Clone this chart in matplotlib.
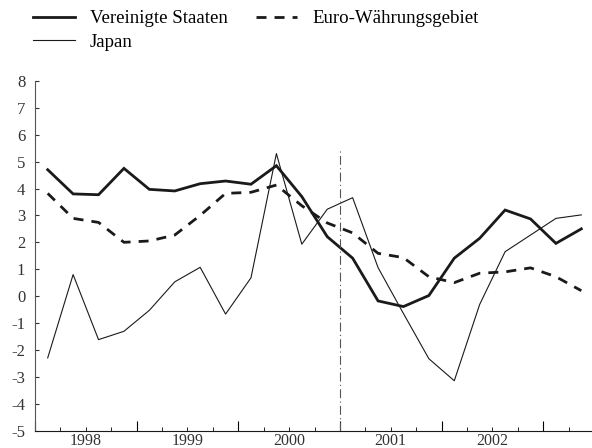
import numpy as np
import matplotlib
matplotlib.use("Agg")
import matplotlib.pyplot as plt
from matplotlib.ticker import MultipleLocator

plt.rcParams['font.family'] = 'serif'
plt.rcParams['font.serif'] = ['Liberation Serif', 'DejaVu Serif']
plt.rcParams['axes.unicode_minus'] = False

# quarterly data, 1998 Q1 to 2003 Q2
years = [1998, 1999, 2000, 2001, 2002]
us = [4.70, 3.80, 3.77, 4.75, 3.97, 3.91, 4.18, 4.28, 4.16, 4.85, 3.70,
      2.21, 1.41, -0.18, -0.39, 0.02, 1.41, 2.15, 3.20, 2.87, 1.96, 2.50]
euro = [3.82, 2.89, 2.74, 2.00, 2.05, 2.27, 3.00, 3.82, 3.86, 4.13, 3.36,
        2.72, 2.35, 1.59, 1.43, 0.72, 0.50, 0.85, 0.90, 1.05, 0.72, 0.20]
japan = [-2.30, 0.80, -1.62, -1.31, -0.53, 0.53, 1.07, -0.67, 0.68, 5.30, 1.93,
         3.23, 3.66, 1.06, -0.65, -2.33, -3.15, -0.31, 1.65, 2.27, 2.89, 3.02]
labels = ['Vereinigte Staaten', 'Euro-Währungsgebiet', 'Japan']

x = 1998 + (np.arange(len(us)) + 0.5) / 4.0

fig = plt.figure(figsize=(5.92, 4.48), dpi=100)
ax = fig.add_axes([35 / 592, 17.5 / 448, 557 / 592, 349.5 / 448])

l_us, = ax.plot(x, us, color='#1a1a1a', lw=2.0, solid_joinstyle='miter')
l_eu, = ax.plot(x, euro, color='#1a1a1a', lw=2.0, dashes=(3.6, 2.9))
l_jp, = ax.plot(x, japan, color='#1a1a1a', lw=0.8)

# vertical marker at start of 2001
ax.plot([2001, 2001], [-5, 5.5], color='#555555', lw=0.8,
        dashes=(8, 3, 1, 3))

ax.set_xlim(1998, 2003.48)
ax.set_ylim(-5, 8)
ax.set_yticks(range(-5, 9))
ax.tick_params(axis='y', direction='in', length=3, pad=7, labelsize=12,
               colors='#333333')
ax.xaxis.set_major_locator(MultipleLocator(1))
ax.xaxis.set_minor_locator(MultipleLocator(0.25))
ax.tick_params(axis='x', which='major', direction='in', length=7,
               labelbottom=False)
ax.tick_params(axis='x', which='minor', direction='in', length=3)

for yr in years:
    ax.annotate(str(yr), xy=(yr + 0.5, 0), xycoords=('data', 'axes fraction'),
                xytext=(0, -1.5), textcoords='offset points',
                ha='center', va='top', fontsize=11.5, color='#333333')

for s in ['top', 'right']:
    ax.spines[s].set_visible(False)
ax.spines['left'].set_color('#555555')
ax.spines['bottom'].set_color('#1a1a1a')

fig.legend([l_us, l_jp, l_eu], [labels[0], labels[2], labels[1]],
           ncol=2, loc='upper left', bbox_to_anchor=(33 / 592, 1 - 10 / 448),
           frameon=False, fontsize=13.6, handlelength=2.2,
           handletextpad=0.8, columnspacing=1.5, labelspacing=0.35,
           borderpad=0, borderaxespad=0)

fig.savefig('out.png', dpi=100)
